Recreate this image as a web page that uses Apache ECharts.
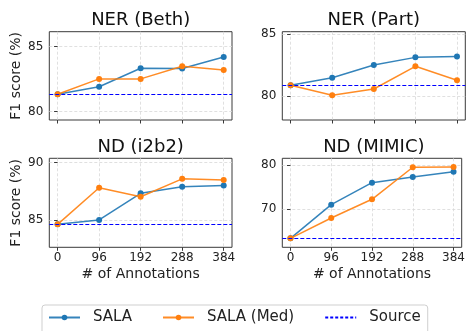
<!DOCTYPE html>
<html><head><meta charset="utf-8">
<script src="https://cdn.jsdelivr.net/npm/echarts@6/dist/echarts.min.js"></script>
<style>html,body{margin:0;padding:0;background:#fff}#c{width:468px;height:331px}</style>
</head><body><div id="c"></div>
<script>
const annotations = [0, 96, 192, 288, 384];
const xTicks = [0, 96, 192, 288, 384];
const titles = ['NER (Beth)', 'NER (Part)', 'ND (i2b2)', 'ND (MIMIC)'];
const salaBeth = [81.34, 81.92, 83.34, 83.32, 84.2];
const medBeth = [81.34, 82.52, 82.52, 83.5, 83.2];
const salaPart = [80.89, 81.5, 82.52, 83.14, 83.22];
const medPart = [80.89, 80.08, 80.59, 82.42, 81.29];
const salaI2b2 = [84.65, 85.03, 87.34, 87.92, 88.03];
const medI2b2 = [84.65, 87.83, 87.05, 88.6, 88.49];
const salaMimic = [63.4, 71.05, 76.05, 77.35, 78.55];
const medMimic = [63.4, 68.02, 72.27, 79.55, 79.62];
const sourceScores = [81.34, 80.89, 84.65, 63.4];
const yLimits = [[79.36, 86.15], [78.09, 85.21], [82.66, 90.38], [61.36, 81.59]];
const yTicks = [[80, 85], [80, 85], [85, 90], [70, 80]];
const xLimits = [-19.2, 403.2];

const salaAll = [salaBeth, salaPart, salaI2b2, salaMimic];
const medAll = [medBeth, medPart, medI2b2, medMimic];

const FONT = 'DejaVu Sans';
const gridPos = [
  {left: 49.3, top: 31.7, width: 182.7, height: 88.3},
  {left: 282.3, top: 31.7, width: 183, height: 88.3},
  {left: 49.3, top: 158.3, width: 182.7, height: 89},
  {left: 282.3, top: 158.3, width: 183, height: 89}
];
const BLUE = '#1f77b4', ORANGE = '#ff7f0e', SRC = '#0000ff';
const spine = '#3a3a3a';
const gridLine = {show: true, lineStyle: {color: '#d8d8d8', type: [3, 2], width: 0.8}};

const grid = gridPos.map(g => Object.assign({show: true, borderColor: spine, borderWidth: 1, backgroundColor: 'transparent'}, g));
const xAxis = gridPos.map((g, i) => ({
  type: 'value', gridIndex: i, min: xLimits[0], max: xLimits[1],
  axisLine: {show: false},
  axisTick: {show: true, inside: false, length: 3.5, lineStyle: {color: spine}, customValues: xTicks},
  axisLabel: {show: i >= 2, customValues: xTicks, fontFamily: FONT, fontSize: 12, color: '#222', margin: 5},
  splitLine: gridLine,
  name: i >= 2 ? '# of Annotations' : '', nameLocation: 'middle', nameGap: 20,
  nameTextStyle: {fontFamily: FONT, fontSize: 14, color: '#222'}
}));
const yAxis = gridPos.map((g, i) => ({
  type: 'value', gridIndex: i, min: yLimits[i][0], max: yLimits[i][1],
  axisLine: {show: false},
  axisTick: {show: true, inside: false, length: 3.5, lineStyle: {color: spine}, customValues: yTicks[i]},
  axisLabel: {show: true, customValues: yTicks[i], fontFamily: FONT, fontSize: 12, color: '#222', margin: 6},
  splitLine: gridLine,
  name: (i % 2 === 0) ? 'F1 score (%)' : '', nameLocation: 'middle', nameGap: 26, nameRotate: 90,
  nameTextStyle: {fontFamily: FONT, fontSize: 14, color: '#222'}
}));
const series = [];
for (let i = 0; i < 4; i++) {
  series.push({
    name: 'SALA', type: 'line', xAxisIndex: i, yAxisIndex: i,
    data: annotations.map((x, k) => [x, salaAll[i][k]]),
    symbol: 'circle', symbolSize: 6, color: BLUE,
    lineStyle: {width: 1.5, color: BLUE, opacity: 0.9}, itemStyle: {color: BLUE}, z: 3
  });
  series.push({
    name: 'SALA (Med)', type: 'line', xAxisIndex: i, yAxisIndex: i,
    data: annotations.map((x, k) => [x, medAll[i][k]]),
    symbol: 'circle', symbolSize: 6, color: ORANGE,
    lineStyle: {width: 1.5, color: ORANGE, opacity: 0.9}, itemStyle: {color: ORANGE}, z: 4
  });
  series.push({
    name: 'Source', type: 'line', xAxisIndex: i, yAxisIndex: i, data: [],
    symbol: 'none', color: SRC, itemStyle: {color: SRC},
    lineStyle: {color: SRC, type: [3, 2], width: 1.2},
    markLine: {silent: true, symbol: 'none', label: {show: false},
      lineStyle: {color: SRC, type: [4, 2], width: 1.2},
      data: [{yAxis: sourceScores[i]}]},
    z: 2
  });
}
const title = gridPos.map((g, i) => ({
  text: titles[i], left: g.left + g.width / 2, top: g.top - 20, textAlign: 'center',
  textStyle: {fontFamily: FONT, fontSize: 18, fontWeight: 'normal', color: '#111'}, padding: 0
}));
const chart = echarts.init(document.getElementById('c'), null, {renderer: 'canvas'});
chart.setOption({
  animation: false,
  title, grid, xAxis, yAxis, series,
  legend: {
    data: ['SALA', 'SALA (Med)', {name: 'Source', itemStyle: {opacity: 0}}],
    left: 42, top: 305, orient: 'horizontal',
    itemWidth: 31, itemHeight: 7, itemGap: 30,
    borderColor: '#cfcfcf', borderWidth: 1, borderRadius: 3, padding: [5, 7, 10, 6],
    textStyle: {fontFamily: FONT, fontSize: 15, color: '#222', padding: [0, 0, 0, 8]}
  }
});
</script></body></html>
